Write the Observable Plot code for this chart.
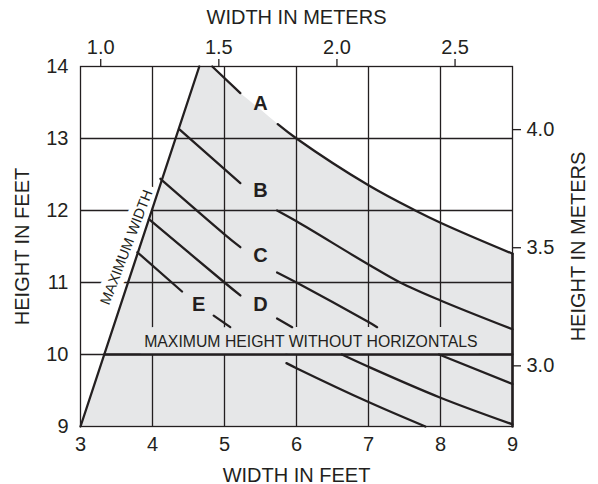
<!DOCTYPE html>
<html>
<head>
<meta charset="utf-8">
<script src="https://cdn.jsdelivr.net/npm/d3@7"></script>
<script src="https://cdn.jsdelivr.net/npm/@observablehq/plot@0.6"></script>
<style>
  html, body { margin: 0; padding: 0; background: #fff; }
</style>
</head>
<body>
<div id="chart"></div>
<script>
// ---- tick values ----
const xTicksFeet = [3, 4, 5, 6, 7, 8, 9];
const yTicksFeet = [9, 10, 11, 12, 13, 14];
const widthMeterTicks = [1.0, 1.5, 2.0, 2.5];
const heightMeterTicks = [3.0, 3.5, 4.0];
const FEET_PER_METER = 3.28084;

// ---- boundary lines (feet) ----
const maxWidthLine = [[3, 9], [4.65, 14]];
const maxHeightLine = [[3.33, 10], [9, 10]];
const rightEdgeLine = [[9, 9], [9, 11.4]];

// ---- curves A..E, each split into drawn segments (gaps for labels/text) ----
const curveA = [
  [[4.83, 14.0], [5.22, 13.63]],
  [[5.74, 13.2], [6, 13.0], [7, 12.35], [7.65, 12.0], [8, 11.83], [9, 11.4]]
];
const curveAGapPoint = [5.48, 13.42];
const curveB = [
  [[4.37, 13.13], [5.22, 12.38]],
  [[5.73, 12.0], [6, 11.85], [7, 11.25], [7.44, 11.0], [8, 10.75], [9, 10.35]]
];
const curveC = [
  [[4.11, 12.44], [5, 11.67], [5.22, 11.49]],
  [[5.73, 11.14], [6, 11.0], [7, 10.45], [7.12, 10.38]],
  [[7.98, 10.0], [9, 9.59]]
];
const curveD = [
  [[3.95, 11.88], [5, 11.0], [5.22, 10.82]],
  [[5.73, 10.5], [5.94, 10.38]],
  [[6.63, 10.0], [7, 9.83], [8, 9.4], [9, 9.03]]
];
const curveE = [
  [[3.79, 11.42], [4.41, 10.875]],
  [[4.85, 10.54], [5.08, 10.38]],
  [[5.86, 9.88], [6, 9.81], [7, 9.34], [7.79, 9.0]]
];

// ---- curve labels ----
const curveNames = ["A", "B", "C", "D", "E"];
const curveLabelX = [5.5, 5.5, 5.5, 5.5, 4.64];
const curveLabelY = [13.49, 12.28, 11.38, 10.69, 10.69];

// ---- annotations ----
const maxWidthText = "MAXIMUM WIDTH";
const maxWidthTextPos = [3.64, 11.49];
const maxHeightText = "MAXIMUM HEIGHT WITHOUT HORIZONTALS";
const maxHeightTextPos = [6.2, 10.18];

const ink = "#231f20";
const shade = "#e6e7e8";
const font = "'Liberation Sans', Arial, Helvetica, sans-serif";

// build tables
const pts = (arr) => arr.map(([x, y]) => ({x, y}));
const curveSets = [["A", curveA], ["B", curveB], ["C", curveC], ["D", curveD], ["E", curveE]];
const curveRows = curveSets.flatMap(([name, segs]) =>
  segs.flatMap((seg, i) => seg.map(([x, y]) => ({curve: name, seg: name + i, x, y}))));

const aAll = pts([...curveA[0], curveAGapPoint, ...curveA[1]]);
// wedge: max-width line, start of curve A, bottom-right corner
const wedgePoly = pts([maxWidthLine[0], maxWidthLine[1], curveA[0][0], rightEdgeLine[0]]);

const labelRows = curveNames.map((n, i) => ({n, x: curveLabelX[i], y: curveLabelY[i]}));

const chart = Plot.plot({
  width: 598,
  height: 484,
  marginLeft: 80,
  marginRight: 86,
  marginTop: 66,
  marginBottom: 58,
  x: {domain: [3, 9]},
  y: {domain: [9, 14]},
  style: {fontFamily: font, fontSize: "20px", color: ink, background: "#fff"},
  marks: [
    // shaded feasible region
    Plot.line(wedgePoly, {x: "x", y: "y", fill: shade, stroke: shade, strokeWidth: 0.5}),
    Plot.areaY(aAll, {x: "x", y1: () => 9, y2: "y", fill: shade, curve: "catmull-rom"}),
    // grid
    Plot.ruleX(xTicksFeet.slice(1, -1), {y1: 9, y2: 14, stroke: ink, strokeWidth: 1.3}),
    Plot.ruleY(yTicksFeet.slice(1, -1), {x1: 3, x2: 9, stroke: ink, strokeWidth: 1.3}),
    // annotation texts with halos hiding grid lines
    Plot.text([maxHeightText], {
      x: maxHeightTextPos[0], y: maxHeightTextPos[1], text: d => d,
      fontSize: 15.8, fill: ink, stroke: shade, strokeWidth: 16, fontFamily: font
    }),
    Plot.text([maxWidthText], {
      x: maxWidthTextPos[0], y: maxWidthTextPos[1], text: d => d,
      fontSize: 14.5, rotate: -69, fill: ink, stroke: "#fff", strokeWidth: 12, fontFamily: font
    }),
    // curves
    Plot.line(curveRows, {x: "x", y: "y", z: "seg", stroke: ink, strokeWidth: 2.3, curve: "catmull-rom"}),
    // boundaries
    Plot.line(pts(maxWidthLine), {x: "x", y: "y", stroke: ink, strokeWidth: 2.3}),
    Plot.line(pts(maxHeightLine), {x: "x", y: "y", stroke: ink, strokeWidth: 2.3}),
    Plot.line(pts(rightEdgeLine), {x: "x", y: "y", stroke: ink, strokeWidth: 2.6}),
    Plot.frame({stroke: ink, strokeWidth: 1.3}),
    // curve labels
    Plot.text(labelRows, {x: "x", y: "y", text: "n", fontSize: 20, fontWeight: "bold", fill: ink, fontFamily: font}),
    // axes
    Plot.axisX({
      anchor: "bottom", ticks: xTicksFeet, tickFormat: d => String(d), tickSize: 0, tickPadding: 10, fontSize: 20,
      label: "WIDTH IN FEET", labelAnchor: "center", labelArrow: "none", labelOffset: 55
    }),
    Plot.axisY({
      anchor: "left", ticks: yTicksFeet, tickFormat: d => String(d), tickSize: 0, tickPadding: 12, fontSize: 20,
      label: "HEIGHT IN FEET", labelAnchor: "center", labelArrow: "none", labelOffset: 66
    }),
    Plot.axisX({
      anchor: "top", ticks: widthMeterTicks.map(m => m * FEET_PER_METER),
      tickFormat: d => (d / FEET_PER_METER).toFixed(1),
      tickSize: 8, tickPadding: 5, fontSize: 20, stroke: ink, strokeWidth: 1.3,
      label: "WIDTH IN METERS", labelAnchor: "center", labelArrow: "none", labelOffset: 57
    }),
    Plot.axisY({
      anchor: "right", ticks: heightMeterTicks.map(m => m * FEET_PER_METER),
      tickFormat: d => (d / FEET_PER_METER).toFixed(1),
      tickSize: 8, tickPadding: 6, fontSize: 20, stroke: ink, strokeWidth: 1.3,
      label: null
    }),
    Plot.text(["HEIGHT IN METERS"], {
      frameAnchor: "right", text: d => d, rotate: -90, textAnchor: "middle", dx: 66,
      fontSize: 20, fill: ink, fontFamily: font
    })
  ]
});
document.getElementById("chart").appendChild(chart);
</script>
</body>
</html>
